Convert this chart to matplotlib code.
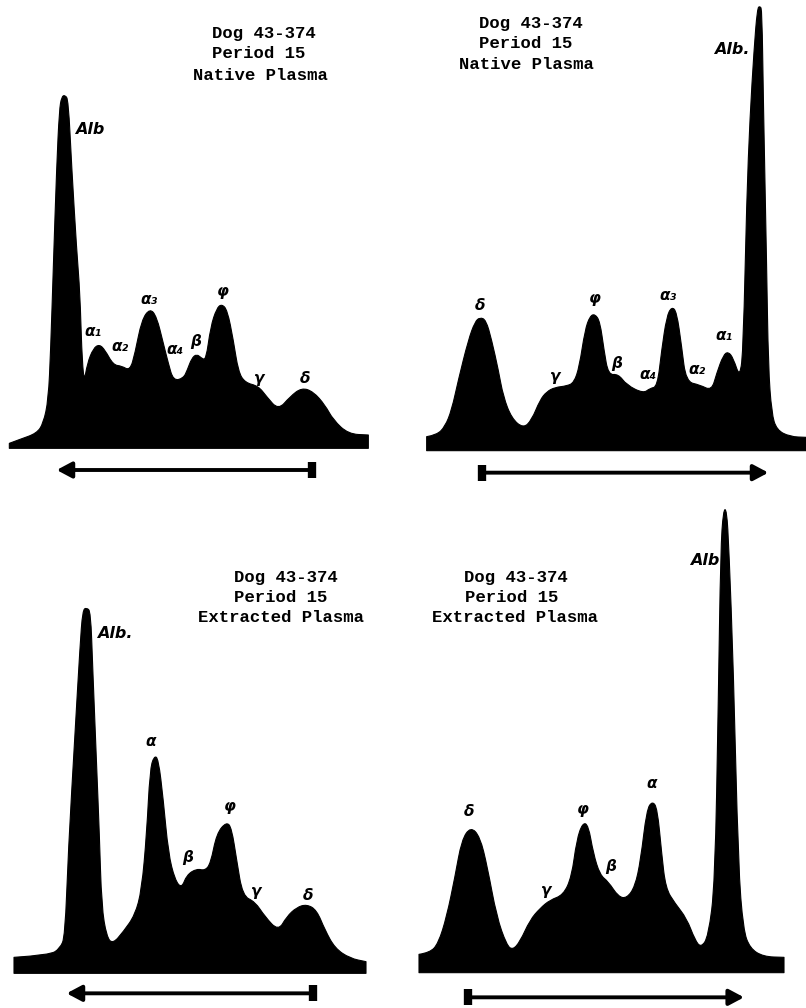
import matplotlib
matplotlib.use("Agg")
import matplotlib.pyplot as plt
from matplotlib.path import Path
from matplotlib.patches import PathPatch

# Scan units: 3 units = 1 output pixel; depth is measured downward from each panel's top.
native_left_x = [28,60,110,130,145,152,160,170,178,185,195,205,215,230,240,245,252,262,280,298,315,340,365,390,405,425,450,470,490,505,520,550,562,575,590,605,618,632,650,665,682,700,715,735,775,800,835,870,905,940,975,1000,1045,1105]
native_left_y = [1330,1318,1300,1270,1200,1050,800,500,330,290,285,300,500,750,880,1050,1150,1090,1045,1033,1050,1095,1098,1112,1060,960,925,950,1030,1090,1142,1135,1110,1075,1062,1075,1080,980,925,912,930,1020,1115,1148,1158,1190,1230,1190,1163,1175,1215,1260,1302,1305]
native_right_x = [80,110,135,155,175,205,225,240,258,275,295,310,335,370,395,420,440,465,500,522,538,555,570,585,600,612,625,655,680,730,750,772,785,800,815,830,845,858,900,935,950,970,985,1000,1020,1030,1040,1050,1062,1072,1080,1086,1090,1100,1105,1115,1130,1170,1218]
native_right_y = [1310,1305,1280,1230,1140,1020,965,952,960,1020,1110,1190,1255,1285,1260,1200,1175,1162,1158,1148,1100,990,948,942,965,1050,1125,1122,1155,1180,1165,1160,1050,950,920,935,1040,1145,1155,1172,1120,1065,1055,1075,1135,1040,600,350,150,25,18,30,300,800,1100,1240,1290,1310,1312]
extracted_left_x = [42,150,180,195,205,225,240,248,260,272,278,290,298,305,320,338,370,405,425,440,450,462,475,490,505,525,545,560,590,615,632,650,680,695,710,728,765,795,835,860,890,920,950,975,1005,1050,1098]
extracted_left_y = [1372,1365,1345,1310,1050,700,440,330,323,335,500,800,1000,1220,1310,1332,1295,1245,1170,1000,810,768,775,900,1060,1140,1165,1125,1106,1112,1090,1000,965,985,1080,1188,1205,1250,1293,1250,1222,1213,1230,1290,1345,1375,1385]
extracted_right_x = [57,90,115,140,165,185,212,240,262,290,320,338,360,390,420,450,490,515,530,548,565,580,600,625,655,680,705,722,740,757,772,785,797,825,860,885,903,925,945,955,962,970,980,987,1000,1015,1030,1050,1090,1152]
extracted_right_y = [1363,1358,1330,1250,1130,1020,980,1010,1100,1250,1335,1350,1325,1260,1225,1200,1185,1130,1020,968,975,1060,1125,1145,1190,1195,1160,1080,930,903,925,1060,1165,1210,1255,1320,1343,1310,1150,600,150,30,28,150,500,1100,1290,1345,1370,1372]

title_dog = "Dog 43-374"
title_period = "Period 15"
title_native = "Native Plasma"
title_extracted = "Extracted Plasma"

labels_1 = [("Alb",270,390),("α₁",280,995),("α₂",360,1040),("α₃",447,900),("α₄",525,1050),("β",588,1025),("φ",668,875),("γ",778,1135),("δ",915,1135)]
labels_2 = [("Alb.",995,150),("δ",240,915),("φ",585,895),("γ",465,1130),("β",650,1090),("α₄",743,1123),("α₃",805,888),("α₂",890,1110),("α₁",972,1005)]
labels_3 = [("Alb.",345,400),("α",452,725),("β",562,1072),("φ",690,920),("γ",770,1175),("δ",925,1185)]
labels_4 = [("Alb",915,182),("δ",207,935),("γ",440,1170),("φ",548,928),("β",632,1100),("α",755,850)]

panels = [
    dict(box=(0,0,400,490), x=native_left_x, y=native_left_y, base=1345, labels=labels_1,
         arrow=(935,170,1410), titles=[(title_dog,636,100),(title_period,636,160),(title_native,578,226)]),
    dict(box=(400,0,406,490), x=native_right_x, y=native_right_y, base=1352, labels=labels_2,
         arrow=(245,1105,1418), titles=[(title_dog,237,70),(title_period,237,130),(title_native,177,193)]),
    dict(box=(0,500,400,508), x=extracted_left_x, y=extracted_left_y, base=1420, labels=labels_3,
         arrow=(940,200,1480), titles=[(title_dog,702,232),(title_period,702,292),(title_extracted,594,352)]),
    dict(box=(400,500,406,508), x=extracted_right_x, y=extracted_right_y, base=1418, labels=labels_4,
         arrow=(205,1032,1492), titles=[(title_dog,192,233),(title_period,195,291),(title_extracted,96,351)]),
]

W, H = 806, 1008


def trace_path(xs, ys, base):
    """Outline with rounded pen travel: read points act as quadratic Bezier controls."""
    verts = [(xs[0], base), (xs[0], ys[0])]
    codes = [Path.MOVETO, Path.LINETO]
    for i in range(1, len(xs) - 1):
        end = ((xs[i] + xs[i+1]) / 2, (ys[i] + ys[i+1]) / 2)
        verts += [(xs[i], ys[i]), end]
        codes += [Path.CURVE3, Path.CURVE3]
    verts += [(xs[-1], ys[-1]), (xs[-1], base), (xs[0], base)]
    codes += [Path.LINETO, Path.LINETO, Path.CLOSEPOLY]
    return Path(verts, codes)


fig = plt.figure(figsize=(W/100, H/100), dpi=100, facecolor="white")

for p in panels:
    bx, by, bw, bh = p["box"]
    ax = fig.add_axes([bx/W, 1-(by+bh)/H, bw/W, bh/H])
    ax.set_xlim(0, bw*3)
    ax.set_ylim(bh*3, 0)
    ax.axis("off")
    ax.add_patch(PathPatch(trace_path(p["x"], p["y"], p["base"]), facecolor="black",
                           edgecolor="black", lw=0.8, joinstyle="round"))
    for txt, tx, ty in p["titles"]:
        ax.text(tx, ty, txt, family="Liberation Mono", weight="bold", fontsize=12.4,
                ha="left", va="center", color="black")
    for txt, lx, ly in p["labels"]:
        big = txt.startswith("Alb")
        ax.text(lx, ly, txt, family="DejaVu Sans", style="italic", weight="bold",
                fontsize=11.5 if big else 11, ha="center", va="center", color="black")
    x0, x1, ya = p["arrow"]
    ax.annotate("", xy=(x1, ya), xytext=(x0, ya),
                arrowprops=dict(arrowstyle="-|>,head_length=0.75,head_width=0.4", lw=2.8, color="black",
                                mutation_scale=12, shrinkA=0, shrinkB=0))
    ax.plot([x0], [ya], marker="|", ms=12, mew=6, color="black", clip_on=False)

fig.savefig("out.png", dpi=100, facecolor="white")
